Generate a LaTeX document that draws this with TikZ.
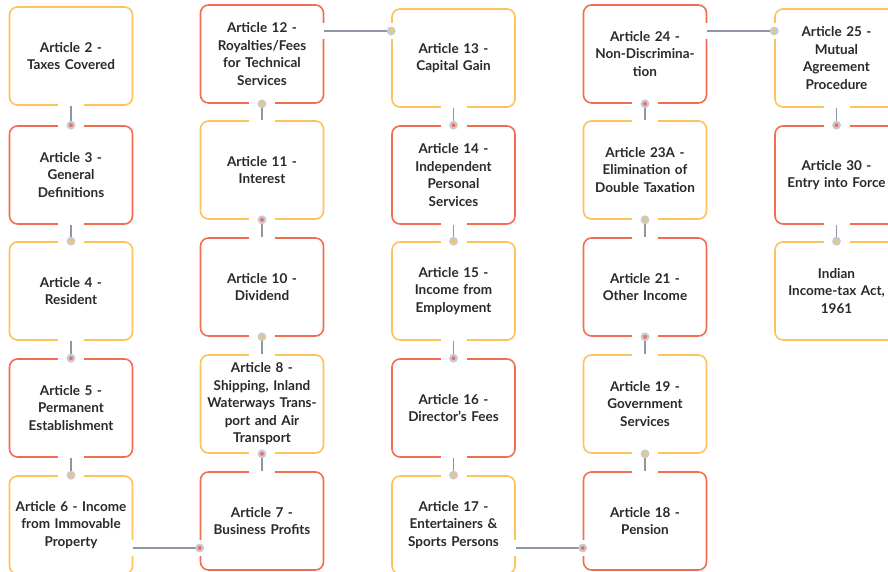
\documentclass[tikz,border=0pt]{standalone}
\usepackage{fontspec}
\setmainfont{Lato}
\usepackage{tikz}
\usetikzlibrary{positioning}
\definecolor{amber}{HTML}{FDC25B}
\definecolor{coral}{HTML}{F26D4F}
\definecolor{ink}{HTML}{2A2A2A}
\definecolor{wire}{HTML}{8E96A3}
\definecolor{ring}{HTML}{C5CAD3}

\begin{document}
\begin{tikzpicture}[
    x=1pt, y=-1pt,
    every node/.style={font=\bfseries\fontsize{13.5}{17.5}\selectfont, text=ink},
    art/.style={
        rectangle,
        rounded corners=8pt,
        line width=1.6pt,
        fill=white,
        text width=121pt,
        align=center,
        minimum width=123pt,
        minimum height=98pt,
        inner sep=0pt
    },
    ambox/.style={art, draw=amber},
    cobox/.style={art, draw=coral},
    link/.style={draw=wire, line width=1.3pt,
        preaction={draw=white, line width=#1, shorten <=-2pt, shorten >=-2pt}},
    link/.default=26pt,
    dot/.style={circle, draw=ring, line width=2.2pt, minimum size=6.5pt, inner sep=0pt}
]
\useasboundingbox (0,0) rectangle (888,571);

% COLUMN 1
\node[ambox] (a2) at (71, 56)  {Article 2 -\\Taxes Covered};
\node[cobox] (a3) at (71, 175) {Article 3 -\\General\\Definitions};
\node[ambox] (a4) at (71, 291) {Article 4 -\\Resident};
\node[cobox] (a5) at (71, 408) {Article 5 -\\Permanent\\Establishment};
\node[ambox] (a6) at (71, 525) {Article 6 - Income\\from Immovable\\Property};

% COLUMN 2
\node[cobox] (a12) at (262, 54)  {Article 12 -\\Royalties/Fees\\for Technical\\Services};
\node[ambox] (a11) at (262, 170) {Article 11 -\\Interest};
\node[cobox] (a10) at (262, 287) {Article 10 -\\Dividend};
\node[ambox] (a8)  at (262, 404) {Article 8 -\\Shipping, Inland\\Waterways Trans-\\port and Air\\Transport};
\node[cobox] (a7)  at (262, 521) {Article 7 -\\Business Profits};

% COLUMN 3
\node[ambox] (a13) at (453.5, 58)  {Article 13 -\\Capital Gain};
\node[cobox] (a14) at (453.5, 175) {Article 14 -\\Independent\\Personal\\Services};
\node[ambox] (a15) at (453.5, 291) {Article 15 -\\Income from\\Employment};
\node[cobox] (a16) at (453.5, 408) {Article 16 -\\Director’s Fees};
\node[ambox] (a17) at (453.5, 525) {Article 17 -\\Entertainers \&\\Sports Persons};

% COLUMN 4
\node[cobox] (a24)  at (645, 54)  {Article 24 -\\Non-Discrimina-\\tion};
\node[ambox] (a23a) at (645, 170) {Article 23A -\\Elimination of\\Double Taxation};
\node[cobox] (a21)  at (645, 287) {Article 21 -\\Other Income};
\node[ambox] (a19)  at (645, 404) {Article 19 -\\Government\\Services};
\node[cobox] (a18)  at (645, 521) {Article 18 -\\Pension};

% COLUMN 5
\node[ambox] (a25) at (836.5, 58)  {Article 25 -\\Mutual\\Agreement\\Procedure};
\node[cobox] (a30) at (836.5, 175) {Article 30 -\\Entry into Force};
\node[ambox] (ita) at (836.5, 291) {Indian\\Income-tax Act,\\1961};

% LINKS
\draw[link] (a2.south) -- (a3.north) node[dot, fill=coral] (d3) {};
\draw[link] (a3.south) -- (a4.north) node[dot, fill=amber] (d4) {};
\draw[link] (a4.south) -- (a5.north) node[dot, fill=coral] (d5) {};
\draw[link] (a5.south) -- (a6.north) node[dot, fill=amber] (d6) {};
\draw[link=16pt] ([yshift=-23pt]a6.east) -- ([yshift=-23pt]a6.east -| a7.west) node[dot, fill=coral] (d7) {};

\draw[link] (a7.north)  -- (a8.south)  node[dot, fill=coral] (d8) {};
\draw[link] (a8.north)  -- (a10.south) node[dot, fill=amber] (d10) {};
\draw[link] (a10.north) -- (a11.south) node[dot, fill=coral] (d11) {};
\draw[link] (a11.north) -- (a12.south) node[dot, fill=amber] (d12) {};
\draw[link=16pt] ([yshift=23pt]a12.east) -- ([yshift=23pt]a12.east -| a13.west) node[dot, fill=amber] (d13) {};

\draw[link] (a13.south) -- (a14.north) node[dot, fill=coral] (d14) {};
\draw[link] (a14.south) -- (a15.north) node[dot, fill=amber] (d15) {};
\draw[link] (a15.south) -- (a16.north) node[dot, fill=coral] (d16) {};
\draw[link] (a16.south) -- (a17.north) node[dot, fill=amber] (d17) {};
\draw[link=16pt] ([yshift=-23pt]a17.east) -- ([yshift=-23pt]a17.east -| a18.west) node[dot, fill=coral] (d18) {};

\draw[link] (a18.north)  -- (a19.south)  node[dot, fill=amber] (d19) {};
\draw[link] (a19.north)  -- (a21.south)  node[dot, fill=coral] (d21) {};
\draw[link] (a21.north)  -- (a23a.south) node[dot, fill=amber] (d23a) {};
\draw[link] (a23a.north) -- (a24.south)  node[dot, fill=coral] (d24) {};
\draw[link=16pt] ([yshift=23pt]a24.east) -- ([yshift=23pt]a24.east -| a25.west) node[dot, fill=amber] (d25) {};

\draw[link] (a25.south) -- (a30.north) node[dot, fill=coral] (d30) {};
\draw[link] (a30.south) -- (ita.north) node[dot, fill=amber] (dita) {};

\end{tikzpicture}
\end{document}
